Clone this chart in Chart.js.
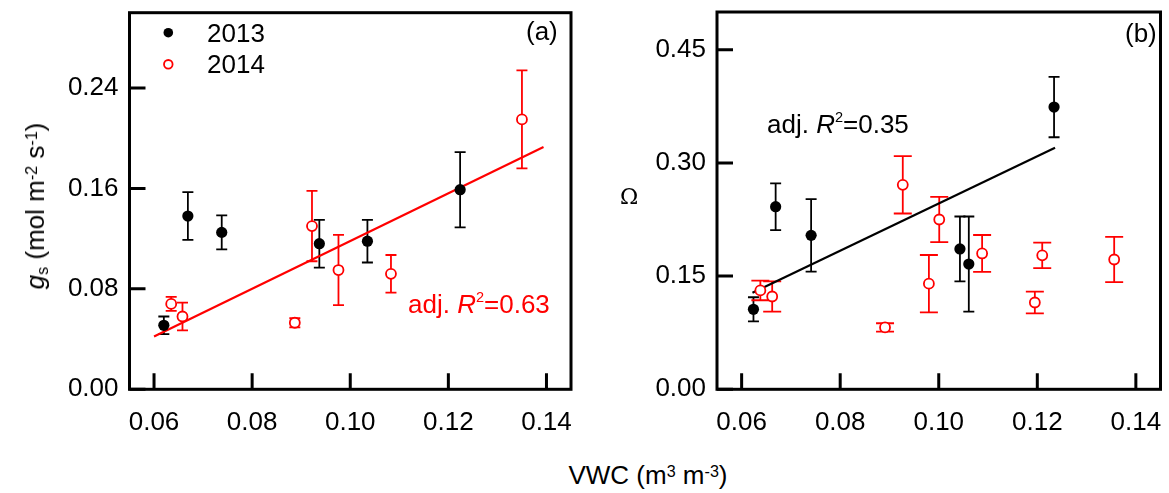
<!DOCTYPE html>
<html><head><meta charset="utf-8">
<script src="https://cdn.jsdelivr.net/npm/chart.js@4"></script>
<style>
body{margin:0;background:#fff;}
#wrap{position:relative;width:1169px;height:493px;overflow:hidden;background:#fff;font-family:'Liberation Sans',Arial,sans-serif;color:#000}
canvas{position:absolute;top:0}
.t{position:absolute;white-space:nowrap;font-size:26px;line-height:1}
.sup{position:relative;top:-0.45em;font-size:0.62em}
.sub{position:relative;top:0.25em;font-size:0.62em}
</style></head>
<body><div id="wrap">
<canvas id="c1" width="590" height="440" style="left:0"></canvas>
<canvas id="c2" width="579" height="440" style="left:590px"></canvas>
<div class="t" style="left:35px;top:206px;transform:translate(-50%,-50%) rotate(-90deg)"><i>g</i><span class="sub">s</span> (mol m<span class="sup">-2</span> s<span class="sup">-1</span>)</div>
<div class="t" style="left:629px;top:197px;transform:translate(-50%,-50%);font-family:'DejaVu Serif','Liberation Serif',serif;font-size:22px">Ω</div>
<div class="t" style="left:648px;top:462px;transform:translateX(-50%)">VWC (m<span class="sup">3</span> m<span class="sup">-3</span>)</div>
</div>
<script>
// ---------- data ----------
const xTicks = [0.06, 0.08, 0.10, 0.12, 0.14];
const gsTicks = [0.00, 0.08, 0.16, 0.24];
const omTicks = [0.00, 0.15, 0.30, 0.45];

// panel (a): stomatal conductance
const vwcA2013 = [0.0620, 0.0669, 0.0738, 0.0937, 0.1035, 0.1224];
const gs2013   = [0.051, 0.138, 0.125, 0.116, 0.118, 0.159];
const gs2013E  = [0.007, 0.019, 0.0135, 0.019, 0.017, 0.030];
const vwcA2014 = [0.0635, 0.0658, 0.0887, 0.0922, 0.0976, 0.1083, 0.1350];
const gs2014   = [0.068, 0.058, 0.053, 0.130, 0.095, 0.092, 0.215];
const gs2014E  = [0.0056, 0.011, 0.0036, 0.028, 0.028, 0.015, 0.039];
const fitAx = [0.0600, 0.1394];
const fitAy = [0.042, 0.193];

// panel (b): decoupling coefficient
const vwcB2013 = [0.0624, 0.0669, 0.0741, 0.1043, 0.1061, 0.1234];
const om2013   = [0.106, 0.242, 0.204, 0.186, 0.166, 0.374];
const om2013E  = [0.016, 0.031, 0.048, 0.043, 0.063, 0.040];
const vwcB2014 = [0.0638, 0.0662, 0.0891, 0.0927, 0.0980, 0.1001, 0.1088, 0.1195, 0.1210, 0.1356];
const om2014   = [0.131, 0.123, 0.082, 0.271, 0.140, 0.225, 0.180, 0.115, 0.1775, 0.172];
const om2014E  = [0.013, 0.020, 0.0055, 0.038, 0.038, 0.030, 0.0245, 0.0145, 0.017, 0.030];
const fitBx = [0.0622, 0.1236];
const fitBy = [0.128, 0.320];

// ---------- drawing ----------
const FAM = "'Liberation Sans', Arial, sans-serif";
const FS = 26;
Chart.defaults.font.family = FAM;
Chart.defaults.font.size = FS;
Chart.defaults.color = '#000';

const pts = (xs, ys) => xs.map((x, i) => ({x, y: ys[i]}));

function rich(ctx, parts, x, yBase, size, color) {
  let cx = x;
  ctx.fillStyle = color;
  ctx.textBaseline = 'alphabetic';
  ctx.textAlign = 'left';
  parts.forEach(p => {
    const fs = p.sup ? size * 0.56 : size;
    ctx.font = (p.it ? 'italic ' : '') + fs + 'px ' + FAM;
    ctx.fillText(p.t, cx, yBase + (p.sup ? -size * 0.42 : 0));
    cx += ctx.measureText(p.t).width;
  });
}

const deco = {
  id: 'deco',
  beforeDatasetsDraw(chart) {
    const {ctx, chartArea: a} = chart;
    const ys = chart.scales.y;
    ctx.save();
    ctx.beginPath(); ctx.rect(a.left, a.top, a.right - a.left, a.bottom - a.top); ctx.clip();
    chart.data.datasets.forEach((ds, i) => {
      if (!ds.errorBars) return;
      const meta = chart.getDatasetMeta(i);
      ctx.strokeStyle = ds.borderColor;
      ctx.lineWidth = ds.errorWidth;
      meta.data.forEach((pt, j) => {
        const v = ds.data[j].y, e = ds.errorBars[j];
        const t = ys.getPixelForValue(v + e), b = ys.getPixelForValue(v - e), h = ds.capWidth / 2;
        ctx.beginPath();
        ctx.moveTo(pt.x, t); ctx.lineTo(pt.x, b);
        ctx.moveTo(pt.x - h, t); ctx.lineTo(pt.x + h, t);
        ctx.moveTo(pt.x - h, b); ctx.lineTo(pt.x + h, b);
        ctx.stroke();
      });
    });
    ctx.restore();
  },
  afterDraw(chart) {
    const {ctx, chartArea: a, scales: {x, y}} = chart;
    ctx.save();
    ctx.strokeStyle = '#000';
    ctx.lineWidth = 3;
    ctx.strokeRect(a.left, a.top, a.right - a.left, a.bottom - a.top);
    ctx.beginPath();
    x.ticks.forEach(t => { const px = x.getPixelForValue(t.value); ctx.moveTo(px, a.bottom); ctx.lineTo(px, a.bottom - 16); });
    y.ticks.forEach(t => { const py = y.getPixelForValue(t.value); ctx.moveTo(a.left, py); ctx.lineTo(a.left + 16, py); });
    ctx.stroke();
    ctx.restore();
  }
};

function makeChart(id, cfg) {
  return new Chart(document.getElementById(id), {
    type: 'scatter',
    data: {datasets: cfg.datasets},
    options: {
      responsive: false, animation: false, devicePixelRatio: 1,
      layout: {padding: cfg.padding},
      plugins: {legend: {display: false}, tooltip: {enabled: false}},
      scales: {
        x: {type: 'linear', min: 0.055, max: 0.145,
            grid: {display: false, drawTicks: false}, border: {display: false},
            afterBuildTicks: s => { s.ticks = xTicks.map(v => ({value: v})); },
            afterFit: s => { s.height = cfg.xh; s.paddingLeft = 0; s.paddingRight = 0; },
            ticks: {padding: 18, autoSkip: false, maxRotation: 0, color: '#000', callback: v => Number(v).toFixed(2)}},
        y: {type: 'linear', min: 0, max: cfg.ymax,
            grid: {display: false, drawTicks: false}, border: {display: false},
            afterBuildTicks: s => { s.ticks = cfg.yTicks.map(v => ({value: v})); },
            afterFit: s => { s.width = cfg.yw; s.paddingTop = 0; s.paddingBottom = 0; },
            ticks: {padding: 11, autoSkip: false, color: '#000', callback: v => Number(v).toFixed(2)}}
      }
    },
    plugins: [deco, {id: 'extra', afterDraw: cfg.extra}]
  });
}

const blackSet = (xs, ys, es) => ({label: '2013', data: pts(xs, ys), errorBars: es, capWidth: 11, errorWidth: 1.8,
  pointRadius: 5.6, backgroundColor: '#000', borderColor: '#000', borderWidth: 0});
const redSet = (xs, ys, es, cap) => ({label: '2014', data: pts(xs, ys), errorBars: es, capWidth: cap, errorWidth: 1.8,
  pointRadius: 5, backgroundColor: '#fff', borderColor: '#ff0000', borderWidth: 1.8});
const fitSet = (xs, ys, col) => ({type: 'line', data: pts(xs, ys), borderColor: col, borderWidth: 2.2, pointRadius: 0, fill: false});

makeChart('c1', {
  padding: {top: 12.7, right: 19, left: 0, bottom: 0}, yw: 129.5, xh: 50.7, ymax: 0.30, yTicks: gsTicks,
  datasets: [blackSet(vwcA2013, gs2013, gs2013E), redSet(vwcA2014, gs2014, gs2014E, 11), fitSet(fitAx, fitAy, '#ff0000')],
  extra(chart) {
    const ctx = chart.ctx;
    ctx.save();
    ctx.fillStyle = '#000';
    ctx.beginPath(); ctx.arc(168.3, 32.7, 4.8, 0, Math.PI * 2); ctx.fill();
    ctx.strokeStyle = '#ff0000'; ctx.lineWidth = 1.8; ctx.fillStyle = '#fff';
    ctx.beginPath(); ctx.arc(168.3, 64.3, 4.3, 0, Math.PI * 2); ctx.fill(); ctx.stroke();
    rich(ctx, [{t: '2013'}], 207, 41.5, FS, '#000');
    rich(ctx, [{t: '2014'}], 207, 73, FS, '#000');
    rich(ctx, [{t: '(a)'}], 526, 40, FS, '#000');
    rich(ctx, [{t: 'adj. '}, {t: 'R', it: true}, {t: '2', sup: true}, {t: '=0.63'}], 408, 313.3, FS, '#ff0000');
    ctx.restore();
  }
});

makeChart('c2', {
  padding: {top: 12, right: 8.5, left: 0, bottom: 0}, yw: 127, xh: 50.7, ymax: 0.50, yTicks: omTicks,
  datasets: [blackSet(vwcB2013, om2013, om2013E), redSet(vwcB2014, om2014, om2014E, 18), fitSet(fitBx, fitBy, '#000')],
  extra(chart) {
    const ctx = chart.ctx;
    ctx.save();
    rich(ctx, [{t: '(b)'}], 535, 41.5, FS, '#000');
    rich(ctx, [{t: 'adj. '}, {t: 'R', it: true}, {t: '2', sup: true}, {t: '=0.35'}], 177, 133.3, FS, '#000');
    ctx.restore();
  }
});
</script>
</body></html>
